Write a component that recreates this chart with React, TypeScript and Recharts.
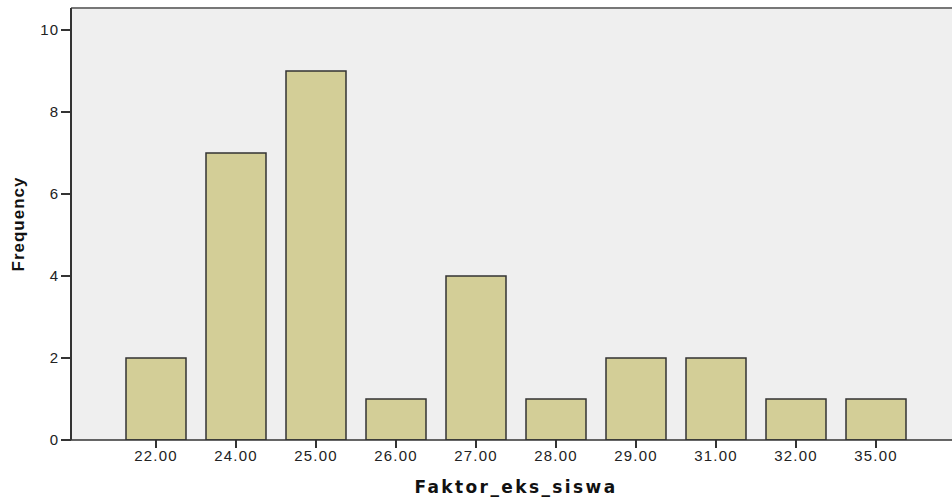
import React from 'react';
import { BarChart, Bar, XAxis, YAxis, CartesianGrid, ReferenceLine } from 'recharts';

const categories = ['22.00', '24.00', '25.00', '26.00', '27.00', '28.00', '29.00', '31.00', '32.00', '35.00'];
const frequencies = [2, 7, 9, 1, 4, 1, 2, 2, 1, 1];
const yTicks = [0, 2, 4, 6, 8, 10];

const data = categories.map((c, i) => ({ name: c, value: frequencies[i] }));

const FONT = '"Liberation Sans", Arial, sans-serif';
const YMAX = 10.537;

export default function App() {
  return (
    <div style={{ position: 'absolute', left: 0, top: 0, width: 952, height: 499, overflow: 'hidden', background: '#fff' }}>
      <BarChart
        width={961}
        height={499}
        data={data}
        margin={{ top: 8, right: 0, left: 0, bottom: 0 }}
        barCategoryGap={10}
      >
        <CartesianGrid fill="#efefef" horizontal={false} vertical={false} />
        <XAxis
          dataKey="name"
          height={59}
          padding={{ left: 45, right: 45 }}
          axisLine={{ stroke: '#333', strokeWidth: 1.5 }}
          tickLine={{ stroke: '#333', strokeWidth: 2 }}
          tickSize={8}
          tick={{ fill: '#222', fontSize: 15, fontFamily: FONT, letterSpacing: 1.2 }}
          interval={0}
          label={{ value: 'Faktor_eks_siswa', position: 'insideBottom', offset: 6, style: { fill: '#111', fontSize: 17, fontWeight: 'bold', fontFamily: '"DejaVu Sans", sans-serif', letterSpacing: 2.4 } }}
        />
        <YAxis
          width={71}
          domain={[0, YMAX]}
          allowDataOverflow
          ticks={yTicks}
          axisLine={{ stroke: '#333', strokeWidth: 2 }}
          tickLine={{ stroke: '#333', strokeWidth: 2 }}
          tickSize={10}
          tick={{ fill: '#222', fontSize: 15, fontFamily: FONT, letterSpacing: 1 }}
          label={{ value: 'Frequency', angle: -90, position: 'insideLeft', offset: 18, style: { textAnchor: 'middle', fill: '#111', fontSize: 17, fontWeight: 'bold', fontFamily: FONT, letterSpacing: 1 } }}
        />
        <ReferenceLine y={YMAX} stroke="#777" strokeWidth={2} ifOverflow="visible" />
        <Bar dataKey="value" fill="#d3ce97" stroke="#333" strokeWidth={1.5} isAnimationActive={false} />
      </BarChart>
    </div>
  );
}
